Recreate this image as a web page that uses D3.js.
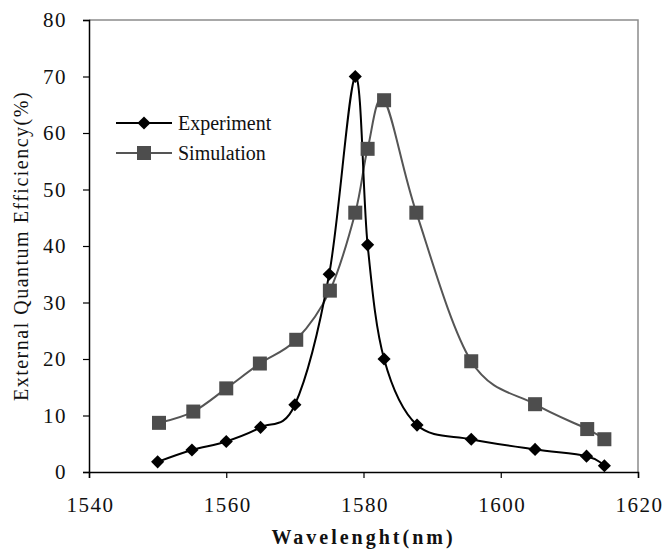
<!DOCTYPE html>
<html>
<head>
<meta charset="utf-8">
<script src="https://cdn.jsdelivr.net/npm/d3@7"></script>
<style>
  body { margin: 0; background: #fff; }
  svg { display: block; }
  svg text { font-family: "Liberation Serif", "Times New Roman", serif; }
</style>
</head>
<body>
<svg id="chart" width="662" height="551"></svg>
<script>
// values
var expWave = [1550, 1555, 1560, 1565, 1570, 1575, 1578.8, 1580.6, 1583, 1587.8, 1595.7, 1605, 1612.5, 1615.1]
var expEff = [1.8, 3.9, 5.4, 7.9, 11.9, 35, 70, 40.2, 20, 8.3, 5.8, 4.0, 2.8, 1.1]
var simWave = [1550.2, 1555.2, 1560, 1564.9, 1570.2, 1575.1, 1578.8, 1580.6, 1583, 1587.7, 1595.7, 1605, 1612.6, 1615.1]
var simEff = [8.7, 10.7, 14.8, 19.2, 23.4, 32.1, 45.9, 57.2, 65.8, 45.9, 19.6, 12.0, 7.6, 5.8]
var xTicks = [1540, 1560, 1580, 1600, 1620]
var yTicks = [0, 10, 20, 30, 40, 50, 60, 70, 80]
var seriesNames = ['Experiment', 'Simulation']

var dims = {
  width: 662,
  height: 551,
  margin: { top: 20, right: 24, bottom: 79, left: 89 }
}

var svg = d3.select('#chart')
var x = d3.scaleLinear().domain([1540, 1620]).range([dims.margin.left, dims.width - dims.margin.right])
var y = d3.scaleLinear().domain([0, 80]).range([dims.height - dims.margin.bottom, dims.margin.top])

// gray frame on top and right
svg.append('path')
  .attr('d', 'M' + x(1540) + ',' + y(80) + 'H' + x(1620) + 'V' + y(0))
  .attr('fill', 'none')
  .attr('stroke', '#8c8c8c')
  .attr('stroke-width', 1.5)

var yAxis = svg.append('g')
  .attr('transform', 'translate(' + x(1540) + ',0)')
  .call(d3.axisLeft(y).tickValues(yTicks).tickSize(6).tickPadding(16))
  .attr('font-family', null)
yAxis.select('.domain').attr('stroke-width', 1.5)
yAxis.selectAll('line').attr('stroke-width', 1.2)
yAxis.selectAll('text')
  .attr('font-size', 21)
  .attr('letter-spacing', 1.5)
  .attr('fill', '#111')

var xAxis = svg.append('g')
  .attr('transform', 'translate(0,' + y(0) + ')')
  .call(d3.axisBottom(x).tickValues(xTicks).tickFormat(d3.format('d')).tickSize(6).tickPadding(19))
  .attr('font-family', null)
xAxis.select('.domain').attr('stroke-width', 1.5)
xAxis.selectAll('line').attr('stroke-width', 1.2)
xAxis.selectAll('text')
  .attr('font-size', 21)
  .attr('letter-spacing', 1.5)
  .attr('dx', 1)
  .attr('fill', '#111')

// axis titles
svg.append('text')
  .attr('x', x(1580))
  .attr('y', 544)
  .attr('text-anchor', 'middle')
  .attr('font-size', 20)
  .attr('font-weight', 'bold')
  .attr('letter-spacing', 3)
  .attr('fill', '#111')
  .text('Wavelenght(nm)')

svg.append('text')
  .attr('transform', 'translate(28,' + y(40) + ') rotate(-90)')
  .attr('text-anchor', 'middle')
  .attr('font-size', 20)
  .attr('letter-spacing', 1.5)
  .attr('fill', '#111')
  .text('External Quantum Efficiency(%)')

var line = d3.line()
  .x(d => x(d[0]))
  .y(d => y(d[1]))
  .curve(d3.curveCardinal.tension(0))

var simData = simWave.map((w, i) => [w, simEff[i]])
var expData = expWave.map((w, i) => [w, expEff[i]])

var simColor = '#4d4d4d'
var simLine = '#555'
var expColor = '#000'

svg.append('path')
  .datum(simData)
  .attr('d', line)
  .attr('fill', 'none')
  .attr('stroke', simLine)
  .attr('stroke-width', 2)

svg.append('path')
  .datum(expData)
  .attr('d', line)
  .attr('fill', 'none')
  .attr('stroke', expColor)
  .attr('stroke-width', 2)

var sq = 14
svg.append('g').selectAll('rect')
  .data(simData)
  .enter()
  .append('rect')
  .attr('x', d => x(d[0]) - sq / 2)
  .attr('y', d => y(d[1]) - sq / 2)
  .attr('width', sq)
  .attr('height', sq)
  .attr('fill', simColor)

var diamond = d3.symbol().type(d3.symbolDiamond2).size(110)
svg.append('g').selectAll('path')
  .data(expData)
  .enter()
  .append('path')
  .attr('d', diamond)
  .attr('transform', d => 'translate(' + x(d[0]) + ',' + y(d[1]) + ')')
  .attr('fill', expColor)

// legend
var legend = svg.append('g').attr('transform', 'translate(116,123)')
seriesNames.forEach(function (name, i) {
  var g = legend.append('g').attr('transform', 'translate(0,' + i * 30 + ')')
  g.append('line')
    .attr('x1', 0).attr('x2', 56)
    .attr('stroke', i == 0 ? expColor : simLine)
    .attr('stroke-width', 2)
  if (i == 0) {
    g.append('path').attr('d', diamond).attr('transform', 'translate(28,0)').attr('fill', expColor)
  } else {
    g.append('rect').attr('x', 28 - sq / 2).attr('y', -sq / 2).attr('width', sq).attr('height', sq).attr('fill', simColor)
  }
  g.append('text')
    .attr('x', 62)
    .attr('y', 7)
    .attr('font-size', 20)
    .attr('fill', '#111')
    .text(name)
})
</script>
</body>
</html>
